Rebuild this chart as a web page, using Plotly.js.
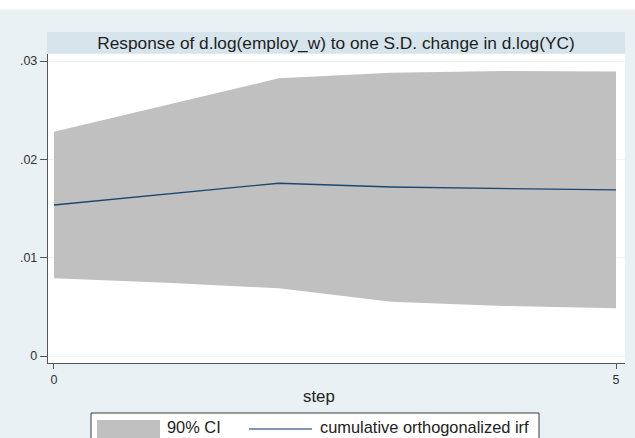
<!DOCTYPE html>
<html>
<head>
<meta charset="utf-8">
<script src="https://cdn.plot.ly/plotly-3.0.1.min.js"></script>
<style>
html,body{margin:0;padding:0;background:#ffffff;}
#chart{width:635px;height:438px;}
</style>
</head>
<body>
<div id="chart"></div>
<script>
// ---- data ----
var steps = [0, 1, 2, 3, 4, 5];
var irf   = [0.01536, 0.01648, 0.01757, 0.01719, 0.01702, 0.01689];
var ciUpper = [0.02282, 0.02555, 0.02825, 0.02882, 0.02900, 0.02893];
var ciLower = [0.00790, 0.00746, 0.00689, 0.00552, 0.00509, 0.00485];
var yTickVals = [0, 0.01, 0.02, 0.03];
var yTickText = ['0', '.01', '.02', '.03'];
var xTickVals = [0, 5];
var xTickText = ['0', '5'];
var chartTitle = 'Response of d.log(employ_w) to one S.D. change in d.log(YC)';
var xTitle = 'step';
var legendLabels = ['90% CI', 'cumulative orthogonalized irf'];

// ---- layout geometry (pixels) ----
var W = 635, H = 438;
var plotL = 48, plotR = 625, plotT = 54, plotB = 363;
function px(x){ return (x - plotL) / (plotR - plotL); }
function py(y){ return (plotB - y) / (plotB - plotT); }

var ciColor = '#c0c0c0';
var lineColor = '#1a476f';
var font = 'Liberation Sans, Arial, Helvetica, sans-serif';

var traces = [
  {x: steps, y: ciLower, type: 'scatter', mode: 'lines',
   line: {width: 0, color: ciColor}, hoverinfo: 'skip', showlegend: false},
  {x: steps, y: ciUpper, type: 'scatter', mode: 'lines', fill: 'tonexty',
   fillcolor: ciColor, line: {width: 0, color: ciColor}, name: legendLabels[0], showlegend: false},
  {x: steps, y: irf, type: 'scatter', mode: 'lines',
   line: {width: 1.3, color: lineColor}, name: legendLabels[1], showlegend: false}
];

var layout = {
  width: W, height: H,
  paper_bgcolor: '#e9f1f4',
  plot_bgcolor: '#ffffff',
  margin: {l: plotL, r: W - plotR, t: plotT, b: H - plotB, pad: 0},
  font: {family: font, color: '#222'},
  showlegend: false,
  title: {text: chartTitle, font: {family: font, size: 17.3, color: '#1e1e1e'},
          x: 336 / W, xref: 'container', xanchor: 'center',
          y: 1 - 43 / H, yref: 'container', yanchor: 'middle'},
  xaxis: {range: [-0.053, 5.08], tickvals: xTickVals, ticktext: xTickText,
          showgrid: false, zeroline: false, showline: true, linecolor: '#555', linewidth: 1.2,
          ticks: 'outside', ticklen: 5, tickcolor: '#555', tickwidth: 1,
          tickfont: {family: font, size: 12.5, color: '#333'}, fixedrange: true},
  yaxis: {range: [-0.000712, 0.03072], tickvals: yTickVals, ticktext: yTickText,
          showgrid: true, gridcolor: '#edf3f5', gridwidth: 1, zeroline: false,
          showline: true, linecolor: '#555', linewidth: 1.2,
          ticks: 'outside', ticklen: 7, tickcolor: '#555', tickwidth: 1,
          tickfont: {family: font, size: 12.5, color: '#333'}, fixedrange: true},
  shapes: [
    // white strip at top of image
    {type: 'rect', xref: 'paper', yref: 'paper', x0: px(0), x1: px(W), y0: py(9.5), y1: py(0),
     fillcolor: '#ffffff', line: {width: 0}, layer: 'above'},
    // title band
    {type: 'rect', xref: 'paper', yref: 'paper', x0: px(47), x1: px(625), y0: py(53.5), y1: py(32),
     fillcolor: '#d6e4eb', line: {width: 0}, layer: 'above'},
    // legend box
    {type: 'rect', xref: 'paper', yref: 'paper', x0: px(91), x1: px(539), y0: py(450), y1: py(413),
     fillcolor: '#ffffff', line: {width: 1, color: '#3a3a3a'}, layer: 'above'},
    // legend CI swatch
    {type: 'rect', xref: 'paper', yref: 'paper', x0: px(97), x1: px(160), y0: py(438), y1: py(420),
     fillcolor: ciColor, line: {width: 0}, layer: 'above'},
    // legend line swatch
    {type: 'line', xref: 'paper', yref: 'paper', x0: px(249), x1: px(312), y0: py(429), y1: py(429),
     line: {width: 1.3, color: '#4f79a3'}, layer: 'above'}
  ],
  annotations: [
    {text: xTitle, xref: 'paper', yref: 'paper', x: px(319), y: py(396),
     xanchor: 'center', yanchor: 'middle', showarrow: false,
     font: {family: font, size: 16.8, color: '#222'}},
    {text: legendLabels[0], xref: 'paper', yref: 'paper', x: px(166), y: py(426.5),
     xanchor: 'left', yanchor: 'middle', showarrow: false, borderpad: 0,
     font: {family: font, size: 16.4, color: '#222'}},
    {text: legendLabels[1], xref: 'paper', yref: 'paper', x: px(319), y: py(426.5),
     xanchor: 'left', yanchor: 'middle', showarrow: false, borderpad: 0,
     font: {family: font, size: 16.4, color: '#222'}}
  ]
};

Plotly.newPlot('chart', traces, layout, {displayModeBar: false, staticPlot: true});
</script>
</body>
</html>
